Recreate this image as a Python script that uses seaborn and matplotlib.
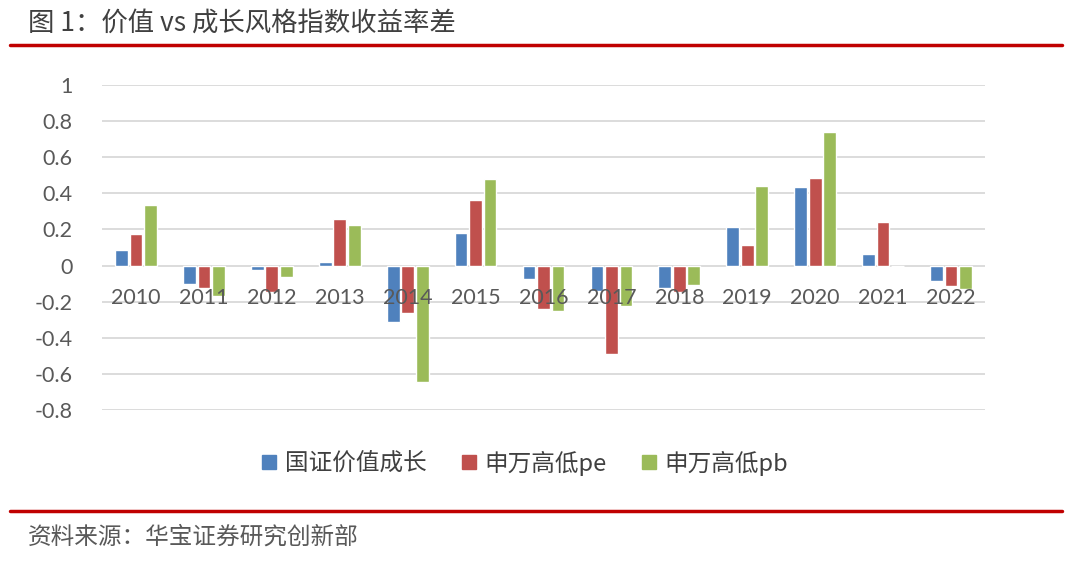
import matplotlib
matplotlib.use("Agg")
import matplotlib.pyplot as plt
import seaborn as sns
import pandas as pd
from matplotlib.lines import Line2D
from matplotlib.ticker import FuncFormatter, MultipleLocator

years = ["2010", "2011", "2012", "2013", "2014", "2015", "2016",
         "2017", "2018", "2019", "2020", "2021", "2022"]
series_names = ["国证价值成长", "申万高低pe", "申万高低pb"]
guozheng = [0.085, -0.102, -0.022, 0.017, -0.315, 0.183, -0.076,
            -0.140, -0.124, 0.213, 0.437, 0.065, -0.083]
sw_pe = [0.176, -0.126, -0.144, 0.256, -0.263, 0.363, -0.239,
         -0.489, -0.146, 0.113, 0.487, 0.244, -0.111]
sw_pb = [0.337, -0.168, -0.065, 0.224, -0.643, 0.478, -0.254,
         -0.224, -0.106, 0.441, 0.737, -0.005, -0.131]
colors = ["#4F81BD", "#C0504D", "#9BBB59"]

rows = []
for name, vals in zip(series_names, [guozheng, sw_pe, sw_pb]):
    for y, v in zip(years, vals):
        rows.append({"year": y, "series": name, "value": v})
df = pd.DataFrame(rows)

sns.set_style("white")
plt.rcParams["font.family"] = ["Noto Sans CJK SC", "DejaVu Sans"]

fig = plt.figure(figsize=(10.8, 5.63), dpi=100)
ax = fig.add_axes([102 / 1080, 1 - 410 / 563, 883 / 1080, 325 / 563])

sns.barplot(data=df, x="year", y="value", hue="series", order=years,
            hue_order=series_names, palette=colors, width=0.64, gap=0.12,
            saturation=1, ax=ax, legend=False, zorder=3)

ax.set_ylim(-0.8, 1.0)
ax.set_xlim(-0.5, 12.5)
ax.yaxis.set_major_locator(MultipleLocator(0.2))
ax.yaxis.set_major_formatter(FuncFormatter(lambda v, p: f"{round(v, 1):g}"))
ax.grid(axis="y", color="#D9D9D9", linewidth=1.3)
ax.set_axisbelow(True)
ax.xaxis.set_zorder(5)
for s in ax.spines.values():
    s.set_visible(False)
ax.spines["bottom"].set_position(("data", 0))
ax.set_xlabel("")
ax.set_ylabel("")
ax.tick_params(axis="x", length=0, pad=16, labelsize=15.5, labelcolor="#595959")
ax.tick_params(axis="y", length=0, pad=21, labelsize=15.5, labelcolor="#595959")
for lab in ax.get_xticklabels() + ax.get_yticklabels():
    lab.set_fontfamily(["Lato", "DejaVu Sans"])

handles = [Line2D([], [], marker="s", linestyle="none", markersize=10,
                  markerfacecolor=c, markeredgecolor=c) for c in colors]
leg = fig.legend(handles, series_names, loc="center", ncol=3,
                 bbox_to_anchor=(525 / 1080, 1 - 463 / 563), frameon=False,
                 prop={"size": 17, "weight": "medium"}, handlelength=0.6,
                 handletextpad=0.35, columnspacing=1.5)
for t in leg.get_texts():
    t.set_color("#404040")

fig.text(28 / 1080, 1 - 23 / 563, "图 1：价值 vs 成长风格指数收益率差",
         fontsize=19, color="#404040", va="center", ha="left")
fig.add_artist(Line2D([10 / 1080, 1062 / 1080], [1 - 45 / 563, 1 - 45 / 563],
                      color="#C00000", linewidth=2.5))
fig.add_artist(Line2D([10 / 1080, 1062 / 1080], [1 - 511 / 563, 1 - 511 / 563],
                      color="#C00000", linewidth=2.5))
fig.text(28 / 1080, 1 - 537 / 563, "资料来源：华宝证券研究创新部",
         fontsize=17, color="#595959", va="center", ha="left")

fig.savefig("out.png", dpi=100)
